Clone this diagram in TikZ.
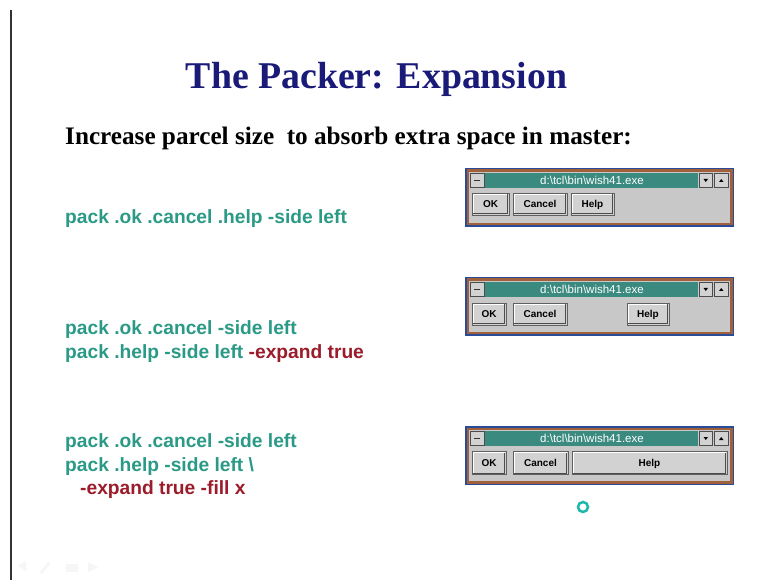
\documentclass[tikz,border=0pt]{standalone}
\usepackage{fontspec}
\setmainfont{Liberation Serif}
\setsansfont{Liberation Sans}
\definecolor{navy}{HTML}{1A1A78}
\definecolor{codeteal}{HTML}{2A9A86}
\definecolor{codered}{HTML}{9B1B2A}
\definecolor{winblue}{HTML}{2A4A9A}
\definecolor{winbrown}{HTML}{A0603A}
\definecolor{winteal}{HTML}{3A8A80}
\definecolor{wingrey}{HTML}{C8C8C8}
\definecolor{btngrey}{HTML}{D2D2D2}
\tikzset{
  code/.style={anchor=base west,inner sep=0pt,font=\sffamily\bfseries\fontsize{19.2}{22}\selectfont,text=codeteal},
  btn/.style={draw=gray!75!black,fill=btngrey,line width=0.8pt,inner sep=0pt,text height=7.5pt,text depth=0pt,font=\sffamily\bfseries\fontsize{10}{11}\selectfont,
    path picture={
      \draw[white,line width=1.2pt] ([xshift=1.2pt,yshift=1.2pt]path picture bounding box.south west) -- ([xshift=1.2pt,yshift=-1.2pt]path picture bounding box.north west) -- ([xshift=-1.2pt,yshift=-1.2pt]path picture bounding box.north east);
      \draw[gray!60!black,line width=1.2pt] ([xshift=1.2pt,yshift=1.2pt]path picture bounding box.south west) -- ([xshift=-1.2pt,yshift=1.2pt]path picture bounding box.south east) -- ([xshift=-1.2pt,yshift=-1.2pt]path picture bounding box.north east);
    }},
  tbox/.style={fill=btngrey,draw=gray!60!black,line width=0.5pt}
}
\newcommand\tkwindow[2]{%
  \begin{scope}[shift={(0,#1)}]
    \fill[winblue] (465,0) rectangle (734,59);
    \fill[winbrown] (466.5,1.5) rectangle (732.5,57.5);
    \fill[wingrey] (469,4) rectangle (730,55);
    \fill[winteal] (485,5) rectangle (698,20);
    \node[text=white,font=\sffamily\fontsize{11.5}{12}\selectfont,inner sep=0pt,text height=8pt,text depth=0pt] (#2title) at (592,12.5) {d:\textbackslash tcl\textbackslash bin\textbackslash wish41.exe};
    \draw[tbox] (470,5.5) rectangle (484,19.5);
    \draw[gray!40!black,line width=1pt] (474,12.5) -- (480,12.5);
    \draw[tbox] (699.5,5.5) rectangle (712,19.5);
    \draw[tbox] (714,5.5) rectangle (728.5,19.5);
    \fill[black] (703.5,11) -- (708,11) -- (705.75,14) -- cycle;
    \fill[black] (719,14) -- (723.5,14) -- (721.25,11) -- cycle;
  \end{scope}}
\begin{document}
\begin{tikzpicture}[x=1pt,y=-1pt]
\useasboundingbox (0,0) rectangle (764,580);
\fill[white] (0,0) rectangle (764,580);
\draw[gray!40!black,line width=2pt] (11,10) -- (11,580);
% faint footer icons
\fill[gray!7] (18,566) -- (26,561) -- (26,571) -- cycle;
\fill[gray!7] (40,572) -- (48,562) -- (50,564) -- (42,574) -- cycle;
\fill[gray!7] (66,564) rectangle (78,572);
\fill[gray!7] (88,562) -- (98,567) -- (88,572) -- cycle;

\node[anchor=base,inner sep=0pt,font=\bfseries\fontsize{37.8}{40}\selectfont,text=navy] (title) at (376.5,89) {The Packer: Expansion};
\node[anchor=base west,inner sep=0pt,font=\bfseries\fontsize{25.2}{28}\selectfont] (sub) at (65,145) {Increase parcel size\ \ to absorb extra space in master:};

\node[code] (c1) at (65,224) {pack .ok .cancel .help -side left};
\node[code] (c2) at (65,335) {pack .ok .cancel -side left};
\node[code] (c3) at (65,359) {pack .help -side left \textcolor{codered}{-expand true}};
\node[code] (c4) at (65,447) {pack .ok .cancel -side left};
\node[code] (c5) at (65,471) {pack .help -side left \textbackslash};
\node[code,text=codered] (c6) at (80,494) {-expand true -fill x};

% window 1
\tkwindow{168}{wa}
\node[btn,minimum width=37pt,minimum height=22pt] (waok) at (490.5,204) {OK};
\node[btn,minimum width=54pt,minimum height=22pt] (wacancel) at (540,204) {Cancel};
\node[btn,minimum width=43pt,minimum height=22pt] (wahelp) at (592.5,204) {Help};
% window 2
\tkwindow{277}{wb}
\node[btn,minimum width=34pt,minimum height=22pt] (wbok) at (489,314) {OK};
\node[btn,minimum width=54pt,minimum height=22pt] (wbcancel) at (540,314) {Cancel};
\node[btn,minimum width=42pt,minimum height=22pt] (wbhelp) at (648,314) {Help};
% window 3
\tkwindow{426}{wc}
\node[btn,minimum width=34pt,minimum height=23pt] (wcok) at (489,463) {OK};
\node[btn,minimum width=55pt,minimum height=23pt] (wccancel) at (540.5,463) {Cancel};
\node[btn,minimum width=155pt,minimum height=23pt] (wchelp) at (649.5,463) {Help};

\draw[codeteal!70!cyan,line width=2.5pt] (583,507) circle (5);
\end{tikzpicture}
\end{document}
